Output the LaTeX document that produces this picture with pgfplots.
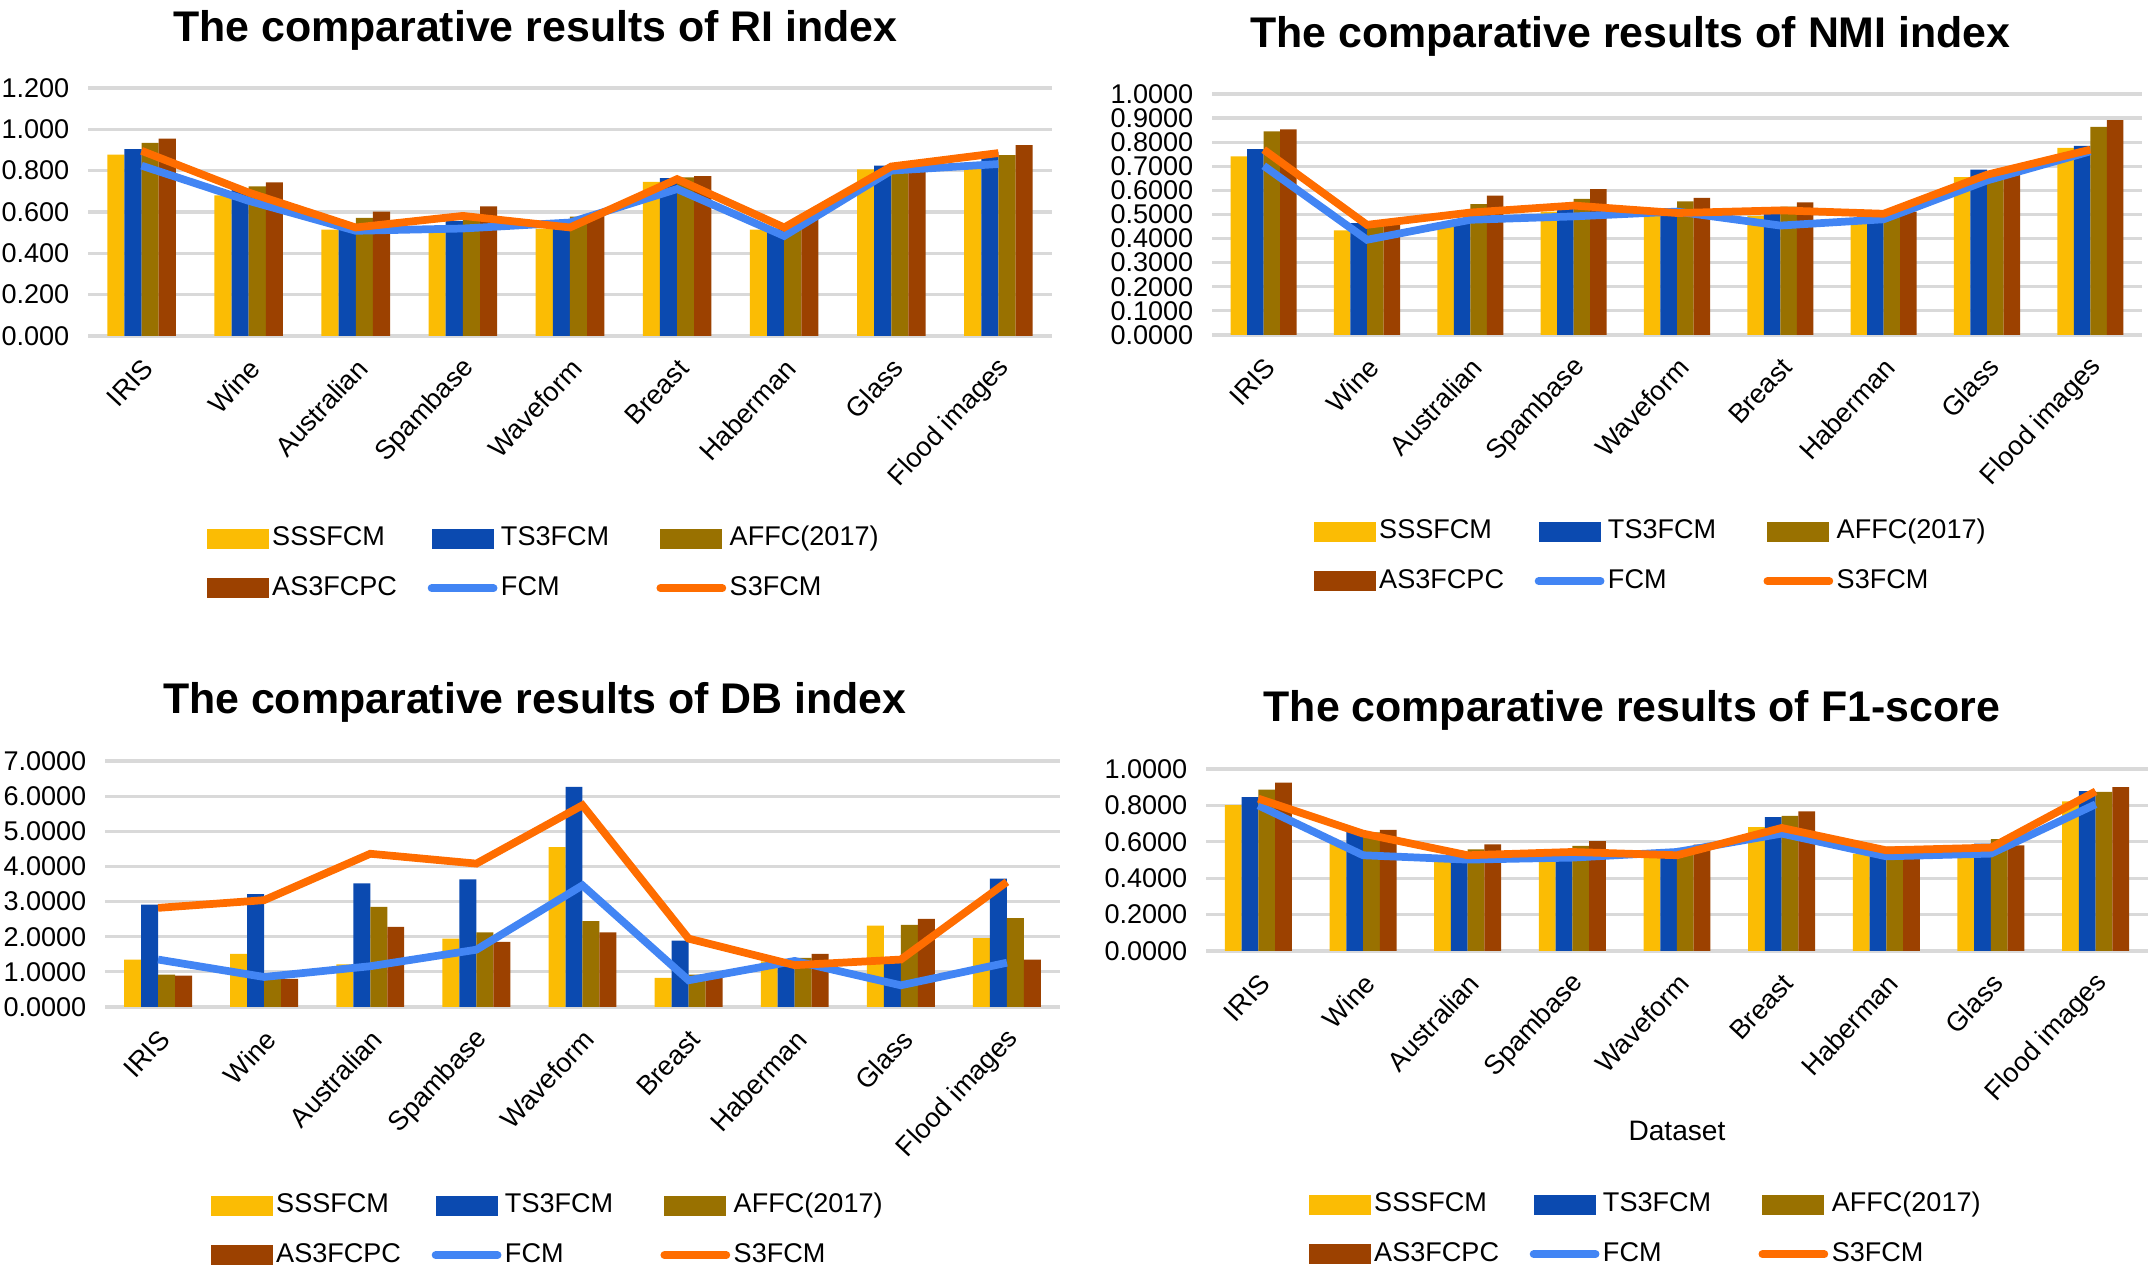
\documentclass[border=0pt]{standalone}
\usepackage{pgfplots}
\usepackage{pgfplotstable}
\usepackage{fontspec}
\setmainfont{Liberation Sans}
\pgfplotsset{compat=1.18}

\definecolor{csss}{HTML}{FBBC04}
\definecolor{cts}{HTML}{0B4AB0}
\definecolor{caffc}{HTML}{997100}
\definecolor{cas}{HTML}{9C4100}
\definecolor{cfcm}{HTML}{4285F4}
\definecolor{cs3}{HTML}{FF6D00}
\definecolor{cgrid}{HTML}{D9D9D9}

% RI index
\pgfplotstableread{
x sss ts3 affc as3 fcm s3
0 0.877 0.904 0.934 0.955 0.824 0.896
1 0.680 0.710 0.724 0.743 0.654 0.694
2 0.515 0.517 0.572 0.602 0.509 0.525
3 0.510 0.557 0.590 0.627 0.520 0.581
4 0.520 0.550 0.578 0.594 0.549 0.525
5 0.746 0.764 0.767 0.774 0.711 0.759
6 0.514 0.520 0.530 0.565 0.484 0.525
7 0.806 0.824 0.810 0.815 0.800 0.820
8 0.830 0.891 0.875 0.924 0.832 0.885
}\ritable

% NMI index
\pgfplotstableread{
x sss ts3 affc as3 fcm s3
0 0.741 0.771 0.845 0.853 0.702 0.769
1 0.434 0.464 0.457 0.478 0.395 0.457
2 0.457 0.480 0.543 0.578 0.478 0.508
3 0.512 0.547 0.565 0.605 0.492 0.537
4 0.506 0.526 0.554 0.569 0.512 0.506
5 0.494 0.512 0.533 0.550 0.454 0.517
6 0.464 0.480 0.490 0.512 0.480 0.503
7 0.655 0.686 0.672 0.679 0.641 0.665
8 0.776 0.785 0.863 0.892 0.762 0.769
}\nmitable

% DB index
\pgfplotstableread{
x sss ts3 affc as3 fcm s3
0 1.347 2.913 0.920 0.892 1.350 2.820
1 1.510 3.210 0.800 0.800 0.854 3.040
2 1.215 3.520 2.850 2.280 1.160 4.360
3 1.945 3.630 2.125 1.850 1.630 4.080
4 4.550 6.260 2.440 2.125 3.460 5.740
5 0.825 1.890 0.920 0.950 0.760 1.945
6 1.300 1.360 1.400 1.510 1.310 1.190
7 2.315 1.420 2.340 2.510 0.617 1.350
8 1.960 3.650 2.530 1.350 1.260 3.560
}\dbtable

% F1-score
\pgfplotstableread{
x sss ts3 affc as3 fcm s3
0 0.802 0.846 0.886 0.925 0.800 0.837
1 0.590 0.654 0.652 0.665 0.526 0.645
2 0.498 0.507 0.559 0.586 0.502 0.526
3 0.507 0.516 0.577 0.604 0.513 0.544
4 0.516 0.535 0.566 0.584 0.544 0.526
5 0.681 0.736 0.742 0.767 0.645 0.676
6 0.535 0.544 0.573 0.535 0.520 0.553
7 0.526 0.590 0.615 0.580 0.535 0.568
8 0.822 0.879 0.874 0.901 0.806 0.877
}\fonetable

\pgfplotsset{
  barleg/.style={legend image code/.code={\fill[##1] (0cm,-0.1cm) rectangle (0.62cm,0.1cm);}},
  lineleg/.style={legend image code/.code={\draw[##1, line cap=round] (0cm,0cm) -- (0.62cm,0cm);}},
  panel/.style={
    scale only axis,
    anchor=south west,
    ybar=0pt,
    bar width=0.16,
    xmin=-0.5, xmax=8.5,
    ymin=0,
    axis line style={draw=none},
    major tick length=0pt,
    ymajorgrids,
    major grid style={cgrid, line width=0.9pt},
    xtick={0,...,8},
    xticklabels={IRIS,Wine,Australian,Spambase,Waveform,Breast,Haberman,Glass,Flood images},
    tick label style={font=\fontsize{7.7}{9}\selectfont},
    yticklabel style={inner sep=0pt, xshift=-0.18cm},
    xticklabel style={inner sep=0pt, xshift=0.07cm, yshift=-0.27cm, rotate=47, anchor=east},
    /pgf/number format/assume math mode=true,
    /pgf/number format/fixed,
    /pgf/number format/fixed zerofill,
    /pgf/number format/precision=4,
    scaled y ticks=false,
    title style={font=\bfseries\fontsize{12.2}{14}\selectfont, anchor=center},
    legend columns=3,
    legend cell align=left,
    legend style={draw=none, fill=none, anchor=north west,
      at={(axis description cs:0,0)}, inner sep=0pt,
      font=\fontsize{7.7}{9}\selectfont,
      nodes={inner sep=1pt, text width=1.52cm},
      row sep=0.18cm},
  },
}

\newcommand{\series}[1]{%
  \addplot[fill=csss, draw=none, barleg] table[x=x, y=sss] {#1};
  \addlegendentry{SSSFCM}
  \addplot[fill=cts, draw=none, barleg] table[x=x, y=ts3] {#1};
  \addlegendentry{TS3FCM}
  \addplot[fill=caffc, draw=none, barleg] table[x=x, y=affc] {#1};
  \addlegendentry{AFFC(2017)}
  \addplot[fill=cas, draw=none, barleg] table[x=x, y=as3] {#1};
  \addlegendentry{AS3FCPC}
  \addplot[sharp plot, draw=cfcm, line width=2.2pt, no markers, lineleg] table[x=x, y=fcm] {#1};
  \addlegendentry{FCM}
  \addplot[sharp plot, draw=cs3, line width=2.2pt, no markers, lineleg] table[x=x, y=s3] {#1};
  \addlegendentry{S3FCM}
}

\begin{document}
\begin{tikzpicture}
\path[use as bounding box] (0,0) rectangle (21.53cm,12.68cm);

% RI
\begin{axis}[panel,
  at={(0.88cm,9.32cm)}, width=9.64cm, height=2.48cm,
  ymax=1.2, ytick={0,0.2,...,1.21},
  /pgf/number format/precision=3,
  title={The comparative results of RI index},
  title style={at={(axis description cs:0.464,1)}, yshift=0.36cm},
  legend style={xshift=1.18cm, yshift=-1.86cm},
]
\series{\ritable}
\end{axis}

% NMI
\begin{axis}[panel,
  at={(12.12cm,9.33cm)}, width=9.30cm, height=2.41cm,
  ymax=1.0, ytick={0,0.1,...,1.01},
  title={The comparative results of NMI index},
  title style={at={(axis description cs:0.45,1)}, yshift=0.36cm},
  legend style={xshift=1.01cm, yshift=-1.80cm},
]
\series{\nmitable}
\end{axis}

% DB
\begin{axis}[panel,
  at={(1.05cm,2.61cm)}, width=9.55cm, height=2.46cm,
  ymax=7, ytick={0,1,...,7},
  title={The comparative results of DB index},
  title style={at={(axis description cs:0.45,1)}, yshift=0.37cm},
  legend style={xshift=1.05cm, yshift=-1.82cm},
]
\series{\dbtable}
\end{axis}

% F1
\begin{axis}[panel,
  at={(12.06cm,3.17cm)}, width=9.42cm, height=1.82cm,
  ymax=1.0, ytick={0,0.2,...,1.01},
  title={The comparative results of F1-score},
  title style={at={(axis description cs:0.452,1)}, yshift=0.37cm},
  xlabel={Dataset},
  xlabel style={at={(axis description cs:0.5,0)}, anchor=center, yshift=-1.8cm, font=\fontsize{8}{10}\selectfont},
  legend style={xshift=1.02cm, yshift=-2.37cm},
]
\series{\fonetable}
\end{axis}
\end{tikzpicture}
\end{document}
